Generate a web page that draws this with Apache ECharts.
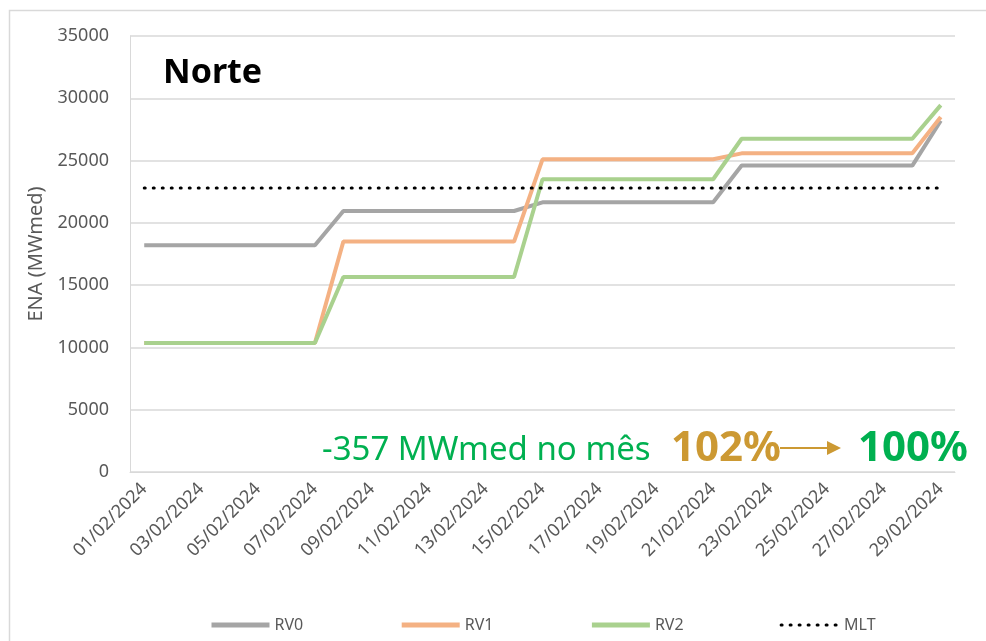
<!DOCTYPE html>
<html>
<head>
<meta charset="utf-8">
<script src="https://cdn.jsdelivr.net/npm/echarts@6/dist/echarts.min.js"></script>
<style>
  html, body { margin: 0; padding: 0; background: #fff; }
  #chart { width: 986px; height: 641px; }
</style>
</head>
<body>
<div id="chart"></div>
<script>
// dias de fevereiro/2024
var days = [];
for (var d = 1; d <= 29; d++) {
  days.push((d < 10 ? '0' + d : '' + d) + '/02/2024');
}

var rv0 = [18200, 18200, 18200, 18200, 18200, 18200, 18200,
  20950, 20950, 20950, 20950, 20950, 20950, 20950,
  21650, 21650, 21650, 21650, 21650, 21650, 21650,
  24600, 24600, 24600, 24600, 24600, 24600, 24600,
  28200];
var rv1 = [10350, 10350, 10350, 10350, 10350, 10350, 10350,
  18500, 18500, 18500, 18500, 18500, 18500, 18500,
  25100, 25100, 25100, 25100, 25100, 25100, 25100,
  25580, 25580, 25580, 25580, 25580, 25580, 25580,
  28500];
var rv2 = [10350, 10350, 10350, 10350, 10350, 10350, 10350,
  15650, 15650, 15650, 15650, 15650, 15650, 15650,
  23500, 23500, 23500, 23500, 23500, 23500, 23500,
  26750, 26750, 26750, 26750, 26750, 26750, 26750,
  29450];
var mltValue = 22800;
var mlt = days.map(function () { return mltValue; });

var font = 'Noto Sans';
var chart = echarts.init(document.getElementById('chart'));

chart.setOption({
  backgroundColor: '#fff',
  animation: false,
  textStyle: { fontFamily: font },
  grid: {
    left: 130,
    right: 31,
    top: 36,
    bottom: 169
  },
  legend: {
    left: 204,
    top: 612,
    itemWidth: 58,
    itemHeight: 14,
    itemGap: 96,
    itemStyle: { opacity: 0 },
    textStyle: { color: '#595959', fontSize: 16, fontFamily: font },
    data: [
      { name: 'RV0', lineStyle: { width: 5 } },
      { name: 'RV1', lineStyle: { width: 5 } },
      { name: 'RV2', lineStyle: { width: 5 } },
      { name: 'MLT', lineStyle: { width: 3 } }
    ]
  },
  xAxis: {
    type: 'category',
    boundaryGap: true,
    data: days,
    axisLine: { lineStyle: { color: '#d9d9d9', width: 1 } },
    axisTick: { show: false },
    axisLabel: {
      interval: 1,
      rotate: 45,
      color: '#595959',
      fontSize: 18,
      margin: 14
    }
  },
  yAxis: {
    type: 'value',
    min: 0,
    max: 35000,
    interval: 5000,
    name: 'ENA (MWmed)',
    nameLocation: 'middle',
    nameGap: 80,
    nameTextStyle: { color: '#595959', fontSize: 20 },
    axisLine: { show: true, lineStyle: { color: '#d9d9d9', width: 1 } },
    axisTick: { show: false },
    splitLine: { lineStyle: { color: '#d9d9d9', width: 1.5 } },
    axisLabel: {
      color: '#595959',
      fontSize: 18,
      margin: 21,
      formatter: function (v) { return String(v); }
    }
  },
  series: [
    {
      name: 'RV0', type: 'line', data: rv0, symbol: 'none',
      itemStyle: { color: '#A5A5A5' },
      lineStyle: { color: '#A5A5A5', width: 4 }
    },
    {
      name: 'RV1', type: 'line', data: rv1, symbol: 'none',
      itemStyle: { color: '#F4B183' },
      lineStyle: { color: '#F4B183', width: 4 }
    },
    {
      name: 'RV2', type: 'line', data: rv2, symbol: 'none',
      itemStyle: { color: '#A9D18E' },
      lineStyle: { color: '#A9D18E', width: 4 }
    },
    {
      name: 'MLT', type: 'line', data: mlt, symbol: 'none',
      itemStyle: { color: '#000' },
      lineStyle: { color: '#000', width: 3, type: [1, 8], cap: 'round' }
    }
  ],
  graphic: [
    {
      type: 'rect',
      silent: true,
      shape: { x: 9.5, y: 10.5, width: 1000, height: 700 },
      style: { fill: 'none', stroke: '#d9d9d9', lineWidth: 1.5 }
    },
    {
      type: 'text',
      left: 163, top: 56,
      style: { text: 'Norte', fontFamily: font, fontSize: 34, fontWeight: 'bold', fill: '#000' }
    },
    {
      type: 'text',
      left: 322, top: 434,
      style: { text: '-357 MWmed no mês', fontFamily: font, fontSize: 33, fill: '#00B050' }
    },
    {
      type: 'text',
      left: 671, top: 428,
      style: { text: '102%', fontFamily: font, fontSize: 42, fontWeight: 'bold', fill: '#CC9933' }
    },
    {
      type: 'line',
      shape: { x1: 780, y1: 448, x2: 830, y2: 448 },
      style: { stroke: '#CC9933', lineWidth: 2 }
    },
    {
      type: 'polygon',
      shape: { points: [[841, 448], [827, 441], [827, 455]] },
      style: { fill: '#CC9933' }
    },
    {
      type: 'text',
      left: 858, top: 428,
      style: { text: '100%', fontFamily: font, fontSize: 42, fontWeight: 'bold', fill: '#00B050' }
    }
  ]
});
</script>
</body>
</html>
